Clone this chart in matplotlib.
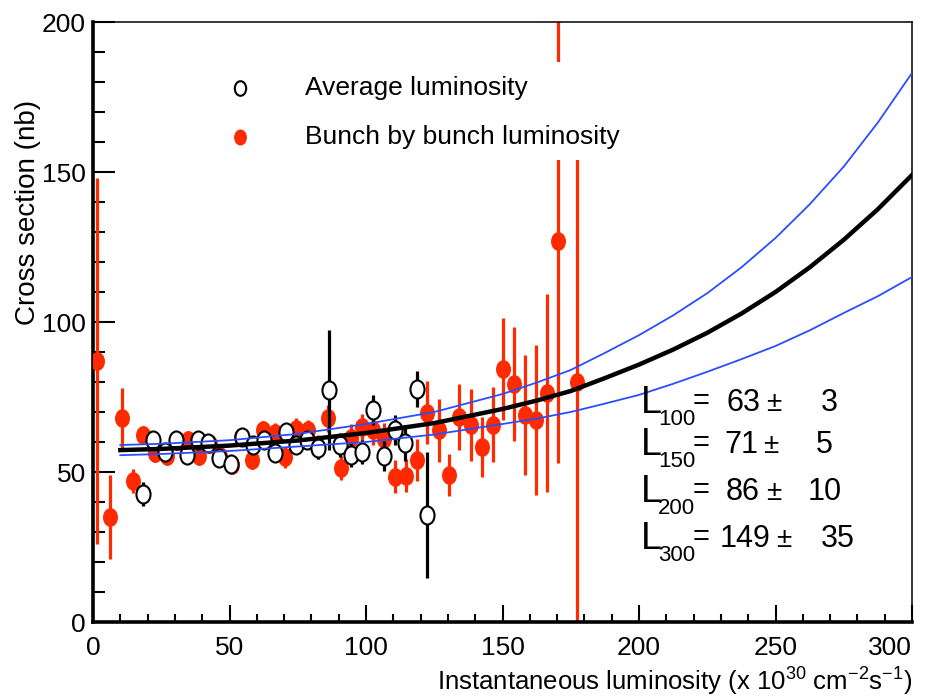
import numpy as np
import matplotlib
matplotlib.use("Agg")
import matplotlib.pyplot as plt
import matplotlib.transforms as mtrans
from matplotlib.path import Path
from matplotlib.patches import Rectangle
from matplotlib.ticker import MultipleLocator

plt.rcParams['font.family'] = ['Liberation Sans', 'DejaVu Sans']
plt.rcParams['mathtext.default'] = 'regular'

# bunch by bunch luminosity (red)
x_bunch = [1.5, 6.2, 10.6, 14.5, 18.3, 22.7, 27.0, 31.2, 34.8, 39.0, 42.9, 46.5, 50.9, 54.2, 58.2,
           62.3, 66.5, 70.3, 74.5, 78.6, 82.4, 86.2, 90.7, 94.5, 98.5, 102.6, 106.5, 110.6, 114.7,
           118.8, 122.3, 126.6, 130.4, 134.2, 138.3, 142.5, 146.5, 150.2, 154.2, 158.2, 162.3,
           166.3, 170.3, 177.3]
y_bunch = [87, 35, 68, 47, 62.5, 56.5, 55.5, 60.5, 60.7, 55.5, 59.5, 55.5, 52.5, 61.7, 54,
           64, 63, 55, 64.5, 64, 58.5, 68, 51.5, 61.5, 65, 64, 61, 48.5, 48.7,
           54, 69.7, 64, 49, 68.3, 65.7, 58.5, 65.7, 84.5, 79.5, 69, 67.5,
           76.3, 127, 80]
e_bunch = [61, 14, 10, 4, 3, 3, 3, 3, 3, 3, 3, 3, 3, 3, 3,
           3, 3.5, 3.5, 3.5, 3.5, 4, 4.5, 4, 4.5, 4.5, 5, 5.5, 5.5, 5.5,
           7, 10.5, 10.5, 7, 11, 12, 10, 12.5, 17, 19, 20, 25,
           33, 74, 85]

# average luminosity (black open)
x_avg = [18.3, 22.0, 26.4, 30.4, 34.4, 38.5, 42.2, 46.2, 50.5, 54.6, 58.6, 62.6, 66.7, 70.7,
         74.4, 78.4, 82.4, 86.4, 90.5, 94.5, 98.5, 102.6, 106.6, 110.6, 114.3, 118.7, 122.3]
y_avg = [42.7, 60.7, 56.7, 60.7, 55.7, 60.7, 59.7, 54.7, 52.7, 61.7, 59, 60.7, 56.3, 63.3,
         59, 60.7, 58, 77.3, 59, 55.7, 56.7, 70.7, 55.3, 64, 59.7, 77.7, 35.7]
e_avg = [4, 2.5, 2.5, 2.5, 2.5, 2.5, 2.5, 2.5, 2.5, 2.5, 2.5, 3, 3, 3,
         3, 3, 3.5, 20, 4, 4, 4, 5, 5, 5, 6, 6, 21]

# fit curve and its error band
fit_x = [10, 25, 50, 75, 100, 125, 150, 162.5, 175, 187.5, 200, 212.5, 225, 237.5,
         250, 262.5, 275, 287.5, 300]
fit_c = [57.3, 57.7, 58.8, 60.5, 63, 66.3, 71, 73.8, 77, 81.3, 85.8, 90.8, 96.4, 102.8,
         110, 118.2, 127.4, 137.6, 149]
fit_hi = [59.0, 59.4, 60.6, 62.7, 66, 70, 76, 79.8, 84, 89.7, 95.6, 102.2, 109.6, 118.2,
          128, 139.2, 151.8, 166.5, 183]
fit_lo = [55.6, 56.0, 57.0, 58.5, 60, 62.5, 66, 67.8, 70, 72.8, 75.7, 79.4, 83.4, 87.6,
          92, 97.2, 103, 108.6, 115]

# extrapolated values
lum_at = ['100', '150', '200', '300']
sig_at = [63, 71, 86, 149]
sig_err = [3, 5, 10, 35]

red = '#ff2a00'
blue = '#2a4dff'

fig = plt.figure(figsize=(9.35, 7.0), dpi=100)
ax = fig.add_axes([93 / 935, 78 / 700, 819 / 935, 600 / 700])

ell = Path.unit_circle().transformed(mtrans.Affine2D().scale(0.78, 1.0))

ax.errorbar(x_bunch, y_bunch, yerr=e_bunch, fmt='none', ecolor=red, elinewidth=2.3, zorder=2)
ax.plot(x_bunch, y_bunch, ls='none', marker=ell, ms=12.5, color=red, zorder=3)

ax.errorbar(x_avg, y_avg, yerr=e_avg, fmt='none', ecolor='black', elinewidth=2.3, zorder=4)
ax.plot(x_avg, y_avg, ls='none', marker=ell, ms=13, mfc='white', mec='black', mew=1.5, zorder=5)

ax.plot(fit_x, fit_hi, color=blue, lw=1.3, zorder=6)
ax.plot(fit_x, fit_lo, color=blue, lw=1.3, zorder=6)
ax.plot(fit_x, fit_c, color='black', lw=3.2, zorder=7)

ax.set_xlim(0, 300)
ax.set_ylim(0, 200)
ax.xaxis.set_major_locator(MultipleLocator(50))
ax.xaxis.set_minor_locator(MultipleLocator(10))
ax.yaxis.set_major_locator(MultipleLocator(50))
ax.yaxis.set_minor_locator(MultipleLocator(10))
ax.tick_params(axis='both', which='both', direction='in', width=1.5, labelsize=19)
ax.tick_params(axis='x', which='major', length=12, pad=10)
ax.tick_params(axis='x', which='minor', length=6)
ax.tick_params(axis='y', which='major', length=16, pad=5)
ax.tick_params(axis='y', which='minor', length=8.5)
ax.spines['left'].set_linewidth(2.6)
ax.spines['bottom'].set_linewidth(2.6)
ax.spines['top'].set_linewidth(1.1)
ax.spines['right'].set_linewidth(1.1)

# last x label sits inside the frame like in the original
locs = list(ax.xaxis.get_majorticklocs())
ticks = ax.xaxis.get_major_ticks(len(locs))
for loc, tick in zip(locs, ticks):
    if abs(loc - 300) < 1e-6:
        tick.label1.set_horizontalalignment('right')


# legend box hides the bars behind it
def axfrac(px, py):
    return (px - 93) / 819, (622 - py) / 600


lx0, ly0 = axfrac(215, 160)
lx1, ly1 = axfrac(640, 62)
ax.add_patch(Rectangle((lx0, ly0), lx1 - lx0, ly1 - ly0, transform=ax.transAxes,
                       facecolor='white', edgecolor='none', zorder=8))
mx, my1 = axfrac(240, 88)
_, my2 = axfrac(240, 137)
ax.plot([mx], [my1], transform=ax.transAxes, ls='none', marker=ell, ms=10.5,
        mfc='white', mec='black', mew=1.5, zorder=9, clip_on=False)
ax.plot([mx], [my2], transform=ax.transAxes, ls='none', marker=ell, ms=10.5,
        color=red, zorder=9, clip_on=False)
tx, _ = axfrac(305, 0)
ax.text(tx, my1, 'Average luminosity', transform=ax.transAxes, fontsize=19,
        va='center', ha='left', zorder=9)
ax.text(tx, my2, 'Bunch by bunch luminosity', transform=ax.transAxes, fontsize=19,
        va='center', ha='left', zorder=9)

# L values block, positions in picture pixels
row_y = [401, 443, 490, 537]
val_right = [760, 758, 760, 770]
pm_left = [766, 763, 766, 776]
err_right = [838, 833, 842, 855]


def fpos(px, py):
    return px / 935, 1 - py / 700


for i in range(len(lum_at)):
    py = row_y[i]
    fig.text(*fpos(641, py + 12), 'L', fontsize=27, ha='left', va='baseline')
    fig.text(*fpos(658, py + 24), lum_at[i], fontsize=16, ha='left', va='baseline')
    fig.text(*fpos(693, py + 8), '=', fontsize=21, ha='left', va='baseline')
    fig.text(*fpos(val_right[i], py + 10), str(sig_at[i]), fontsize=22, ha='right', va='baseline')
    fig.text(*fpos(pm_left[i], py + 10), '\u00b1', fontsize=20, ha='left', va='baseline')
    fig.text(*fpos(err_right[i], py + 10), str(sig_err[i]), fontsize=22, ha='right', va='baseline')

fig.text(28 / 935, 1 - 100 / 700, 'Cross section (nb)', rotation=90, fontsize=20,
         ha='center', va='top')
fig.text(912 / 935, 1 - 682 / 700,
         'Instantaneous luminosity (x 10$^{30}$ cm$^{-2}$s$^{-1}$)',
         fontsize=18.5, ha='right', va='center')

fig.savefig('out.png', dpi=100)
